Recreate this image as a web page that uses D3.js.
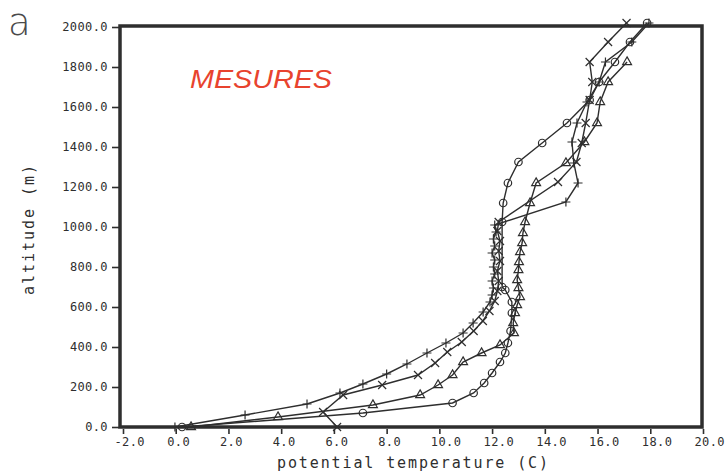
<html>
<head>
  <meta charset="utf-8">
  <script src="https://d3js.org/d3.v7.min.js"></script>
  <style>
    body { margin: 0; background: #fff; }
  </style>
</head>
<body>
  <svg id="chart" width="726" height="476"></svg>

  <script>
    // Soundings: potential temperature (C) against altitude (m), four profiles.
    let plusT = [-0.03, 2.63, 4.98, 6.23, 7.1, 8.0, 8.77, 9.53, 10.25, 10.9, 11.28, 11.66, 11.92, 12.0, 12.05, 12.0, 12.1, 12.05, 12.1, 12.0, 12.1, 12.05, 12.15, 12.1, 14.8, 15.26, 15.1, 15.03, 15.22, 15.6, 16.06, 16.3, 17.3, 17.95];
    let plusZ = [0, 60, 115, 170, 215, 265, 315, 370, 420, 470, 520, 575, 625, 660, 695, 730, 765, 800, 835, 870, 905, 940, 975, 1010, 1125, 1220, 1320, 1425, 1520, 1625, 1725, 1825, 1925, 2020];

    let crossT = [6.12, 5.59, 6.35, 7.83, 9.19, 9.84, 10.3, 10.85, 11.3, 11.65, 11.9, 12.1, 12.2, 12.25, 12.2, 12.3, 12.25, 12.3, 12.2, 12.25, 14.5, 15.2, 15.4, 15.55, 15.7, 15.8, 15.7, 16.4, 17.1];
    let crossZ = [0, 75, 160, 210, 260, 320, 375, 425, 480, 530, 580, 630, 680, 730, 780, 830, 880, 930, 980, 1025, 1225, 1325, 1420, 1520, 1635, 1725, 1825, 1925, 2020];

    let triT = [0.58, 3.88, 7.48, 9.27, 9.95, 10.5, 10.9, 11.6, 12.3, 12.83, 12.8, 12.87, 12.95, 13.06, 13.0, 12.95, 13.0, 13.02, 13.06, 13.14, 13.17, 13.25, 13.44, 13.67, 14.8, 15.5, 15.98, 16.1, 16.4, 17.12];
    let triZ = [0, 50, 110, 160, 210, 260, 325, 370, 410, 470, 520, 570, 610, 650, 695, 735, 785, 825, 875, 920, 970, 1025, 1120, 1220, 1320, 1425, 1520, 1625, 1725, 1825];

    let circT = [0.24, 7.1, 10.5, 11.3, 11.7, 12.0, 12.3, 12.5, 12.6, 12.7, 12.75, 12.75, 12.5, 12.38, 12.38, 12.42, 12.6, 13.0, 13.9, 14.84, 15.7, 16.06, 16.66, 17.23, 17.88];
    let circZ = [0, 70, 120, 170, 220, 270, 325, 370, 420, 480, 570, 625, 685, 700, 1025, 1120, 1220, 1325, 1420, 1520, 1635, 1725, 1825, 1925, 2020];

    let xTicks = [-2, 0, 2, 4, 6, 8, 10, 12, 14, 16, 18, 20];
    let yTicks = [0, 200, 400, 600, 800, 1000, 1200, 1400, 1600, 1800, 2000];

    let ink = "#2e2e2e";
    let svg = d3.select("#chart");

    let x = d3.scaleLinear().domain([-2, 20]).range([123, 703]);
    let y = d3.scaleLinear().domain([0, 2000]).range([427, 27]);

    // plain hyphen for negatives, like the plotter output
    let fmt = d => d.toFixed(1);

    // Frame
    svg.append("rect")
      .attr("x", 120).attr("y", 26)
      .attr("width", 582).attr("height", 401)
      .attr("fill", "none")
      .attr("stroke", ink)
      .attr("stroke-width", 3.5);

    // Axes
    let yAxis = svg.append("g")
      .attr("transform", "translate(119,0)")
      .call(d3.axisLeft(y).tickValues(yTicks).tickFormat(fmt).tickSize(7).tickPadding(4));

    let xAxis = svg.append("g")
      .attr("transform", "translate(0,429)")
      .call(d3.axisBottom(x).tickValues(xTicks).tickFormat(fmt).tickSize(5).tickPadding(3));

    [yAxis, xAxis].forEach(ax => {
      ax.select(".domain").remove();
      ax.selectAll("line").attr("stroke", ink).attr("stroke-width", 1.6);
      ax.selectAll("text")
        .attr("fill", ink)
        .attr("font-family", "DejaVu Sans Mono")
        .attr("font-size", 12)
        .attr("letter-spacing", "0.4px");
    });
    xAxis.selectAll("text").attr("text-anchor", "start").attr("dx", -9);

    // Axis titles
    svg.append("text")
      .attr("x", 277).attr("y", 468)
      .attr("textLength", 271).attr("lengthAdjust", "spacing")
      .attr("font-family", "DejaVu Sans Mono")
      .attr("font-size", 15)
      .attr("fill", ink)
      .text("potential temperature (C)");

    svg.append("text")
      .attr("transform", "translate(34,295) rotate(-90)")
      .attr("textLength", 130).attr("lengthAdjust", "spacing")
      .attr("font-family", "DejaVu Sans Mono")
      .attr("font-size", 15)
      .attr("fill", ink)
      .text("altitude (m)");

    // Panel letter and handwritten note
    svg.append("text")
      .attr("x", 8).attr("y", 35)
      .attr("font-family", "DejaVu Sans")
      .attr("font-weight", 300)
      .attr("font-size", 37)
      .attr("fill", "#4a4a4a")
      .text("a");

    svg.append("text")
      .attr("x", 190).attr("y", 88)
      .attr("textLength", 142).attr("lengthAdjust", "spacingAndGlyphs")
      .attr("font-family", "Liberation Sans")
      .attr("font-style", "italic")
      .attr("font-size", 25)
      .attr("fill", "#e8432e")
      .text("MESURES");

    // Series
    let line = d3.line().x(d => x(d[0])).y(d => y(d[1]));
    let markers = {
      plus: "M-4.5,0H4.5M0,-4.5V4.5",
      cross: "M-4,-4L4,4M4,-4L-4,4",
      tri: d3.symbol(d3.symbolTriangle, 34)(),
      circ: d3.symbol(d3.symbolCircle, 44)()
    };

    let series = [
      {name: "plus", pts: d3.zip(plusT, plusZ)},
      {name: "cross", pts: d3.zip(crossT, crossZ)},
      {name: "tri", pts: d3.zip(triT, triZ)},
      {name: "circ", pts: d3.zip(circT, circZ)}
    ];

    series.forEach(s => {
      svg.append("path")
        .datum(s.pts)
        .attr("d", line)
        .attr("fill", "none")
        .attr("stroke", ink)
        .attr("stroke-width", 1.4);

      svg.selectAll(".m-" + s.name).data(s.pts).join("path")
        .attr("class", "m-" + s.name)
        .attr("transform", d => `translate(${x(d[0])},${y(d[1])})`)
        .attr("d", markers[s.name])
        .attr("fill", "none")
        .attr("stroke", ink)
        .attr("stroke-width", 1.2);
    });
  </script>
</body>
</html>
